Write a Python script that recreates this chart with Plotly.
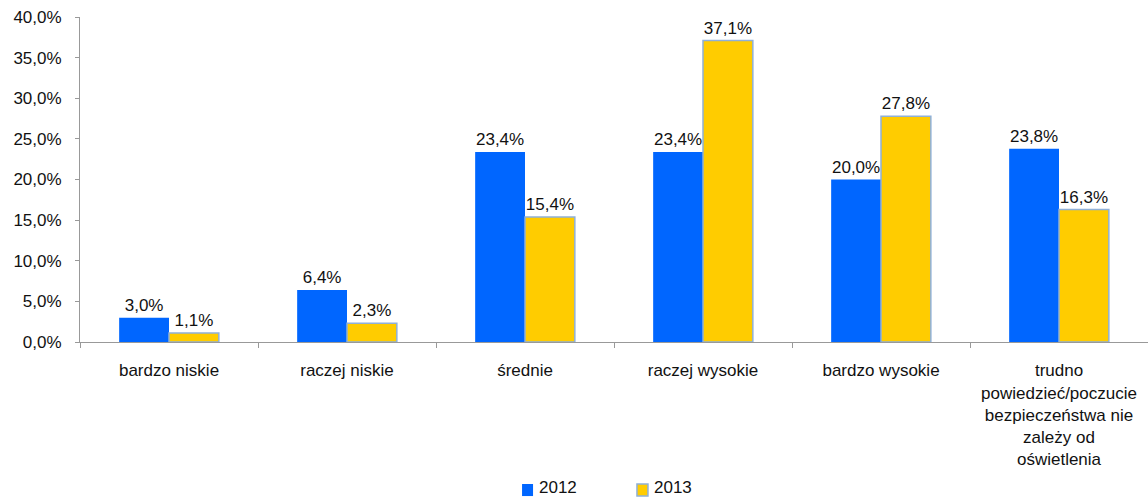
import plotly.graph_objects as go

categories = [
    "bardzo niskie",
    "raczej niskie",
    "średnie",
    "raczej wysokie",
    "bardzo wysokie",
    "trudno<br>powiedzieć/poczucie<br>bezpieczeństwa nie<br>zależy od<br>oświetlenia",
]
values_2012 = [3.0, 6.4, 23.4, 23.4, 20.0, 23.8]
values_2013 = [1.1, 2.3, 15.4, 37.1, 27.8, 16.3]
y_ticks = [0, 5, 10, 15, 20, 25, 30, 35, 40]
series_names = ["2012", "2013"]
series_colors = ["#0066FF", "#FFCC00"]
series_borders = ["#0066FF", "#8FB0D8"]

FONT = "Liberation Sans, Arial, sans-serif"
FS = 17


def pl(v):
    return f"{v:.1f}".replace(".", ",") + "%"


fig = go.Figure()
for name, vals, col, brd in zip(series_names, [values_2012, values_2013],
                                series_colors, series_borders):
    fig.add_trace(go.Bar(
        name=name, x=categories, y=vals,
        marker=dict(color=col, line=dict(color=brd, width=0 if brd == col else 1.5)),
        text=[pl(v) for v in vals], textposition="outside",
        textfont=dict(size=FS, color="#111"), cliponaxis=False,
    ))

# legend drawn below the plot: small squares with labels
legend_x = [0.4139, 0.5215]
for lx, name, col, brd in zip(legend_x, series_names, series_colors, series_borders):
    fig.add_shape(type="rect", xref="paper", yref="paper",
                  x0=lx, x1=lx + 0.0103, y0=-0.474, y1=-0.437,
                  fillcolor=col, line=dict(color=brd, width=0 if brd == col else 1.5))
    fig.add_annotation(xref="paper", yref="paper", x=lx + 0.0140, y=-0.449,
                       text=name, showarrow=False, xanchor="left", yanchor="middle",
                       font=dict(size=FS, color="#111"))

fig.update_layout(
    width=1148, height=500,
    margin=dict(l=80, r=0, t=17, b=158),
    paper_bgcolor="white", plot_bgcolor="white",
    font=dict(family=FONT, size=FS, color="#111"),
    separators=", ",
    barmode="group", bargap=0.44, bargroupgap=0,
    showlegend=False,
    xaxis=dict(
        showline=True, linecolor="#999", linewidth=1,
        ticks="outside", ticklen=5, tickcolor="#999", tickson="boundaries",
        tickfont=dict(size=FS), showgrid=False, automargin=False,
        ticklabelstandoff=13,
    ),
    yaxis=dict(
        range=[0, 40], tickvals=y_ticks,
        ticktext=[pl(v) for v in y_ticks],
        showline=True, linecolor="#999", linewidth=1,
        ticks="outside", ticklen=4, tickcolor="#999",
        tickfont=dict(size=FS), showgrid=False, zeroline=False,
        ticklabelstandoff=10, automargin=False,
    ),
)

fig.write_html("out.html")
